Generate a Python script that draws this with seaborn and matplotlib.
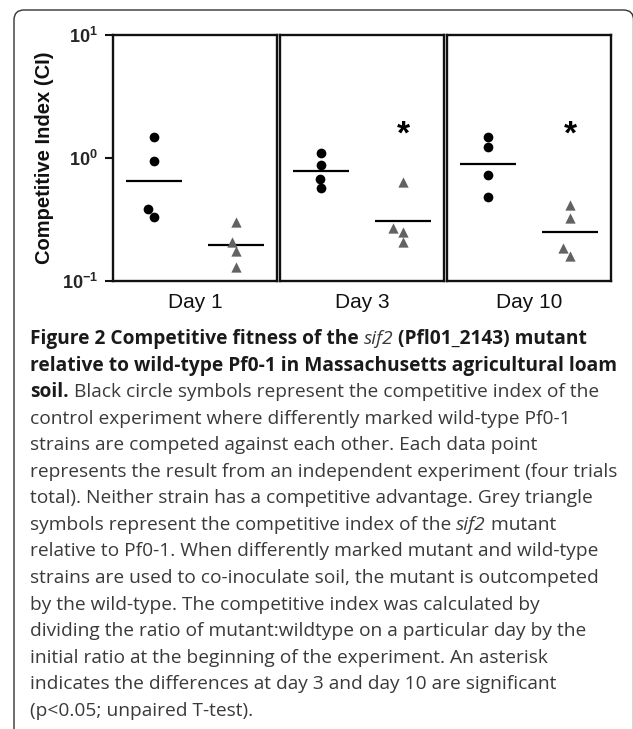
import numpy as np
import pandas as pd
import matplotlib
matplotlib.use("Agg")
import matplotlib.pyplot as plt
import seaborn as sns
from matplotlib.patches import FancyBboxPatch
from matplotlib.font_manager import FontProperties
from matplotlib.transforms import IdentityTransform

# ---------------- data ----------------
days = ["Day 1", "Day 3", "Day 10"]
strains = ["wild-type", "sif2"]
wt_day1 = [1.47, 0.95, 0.385, 0.333]
wt_day3 = [1.10, 0.88, 0.68, 0.567]
wt_day10 = [1.49, 1.22, 0.73, 0.485]
mut_day1 = [0.303, 0.209, 0.175, 0.131]
mut_day3 = [0.64, 0.268, 0.252, 0.206]
mut_day10 = [0.415, 0.323, 0.184, 0.160]
significance = ["", "*", "*"]
yticks = [0.1, 1, 10]
ytick_labels = [r"$\mathbf{10^{-1}}$", r"$\mathbf{10^{0}}$", r"$\mathbf{10^{1}}$"]

wt = {"Day 1": wt_day1, "Day 3": wt_day3, "Day 10": wt_day10}
mut = {"Day 1": mut_day1, "Day 3": mut_day3, "Day 10": mut_day10}
rows = []
for d in days:
    for v in wt[d]:
        rows.append((d, strains[0], v))
    for v in mut[d]:
        rows.append((d, strains[1], v))
df = pd.DataFrame(rows, columns=["day", "strain", "ci"])

# ---------------- style ----------------
sns.set_style("white")
plt.rcParams["font.family"] = ["Liberation Sans", "DejaVu Sans"]
plt.rcParams["mathtext.fontset"] = "custom"
plt.rcParams["mathtext.rm"] = "Liberation Sans"
plt.rcParams["mathtext.bf"] = "Liberation Sans:bold"

W, H = 633, 729
fig = plt.figure(figsize=(W / 100, H / 100), dpi=100)
fig.patch.set_facecolor("white")

panel_left = [113, 280, 447]
panel_w = 164
top, bottom = 35, 281
grey = "#626262"

axes = []
for i, d in enumerate(days):
    ax = fig.add_axes([panel_left[i] / W, 1 - bottom / H, panel_w / W, (bottom - top) / H])
    ax.set_yscale("log")
    ax.set_ylim(0.1, 10)
    sub = df[df["day"] == d]
    sns.swarmplot(data=sub[sub["strain"] == strains[0]], x="strain", y="ci", order=strains,
                  color="black", marker="o", size=7.0, linewidth=0, ax=ax)
    sns.swarmplot(data=sub[sub["strain"] == strains[1]], x="strain", y="ci", order=strains,
                  color=grey, marker="^", size=7.4, linewidth=0, ax=ax)
    # geometric-mean lines
    gm = sub.groupby("strain")["ci"].apply(lambda v: np.exp(np.mean(np.log(v))))
    for j, s in enumerate(strains):
        ax.hlines(gm[s], j - 0.34, j + 0.34, color="black", lw=1.6, zorder=1)
    if significance[i]:
        ax.text(1, 1.3, significance[i], ha="center", va="baseline",
                fontsize=24, fontweight="bold", color="black")
    ax.set_xlim(-0.5, 1.5)
    ax.set_ylim(0.1, 10)
    ax.set_xticks([])
    ax.minorticks_off()
    ax.set_xlabel(d, fontsize=15, color="#111111")
    ax.xaxis.set_label_coords(0.5, -0.088)
    ax.xaxis.label.set_verticalalignment("center")
    for sp in ax.spines.values():
        sp.set_visible(True)
        sp.set_linewidth(1.7)
        sp.set_color("#111111")
    if i == 0:
        ax.set_yticks(yticks)
        ax.set_yticklabels(ytick_labels, fontsize=13)
        ax.tick_params(axis="y", which="major", direction="out", length=6, width=1.5,
                       pad=5, left=True, color="#111111")
        ax.set_ylabel("Competitive Index (CI)", fontsize=14.5, fontweight="bold", color="#111111")
        ax.yaxis.set_label_coords(-0.415, 0.5)
        ax.yaxis.label.set_verticalalignment("center")
    else:
        ax.set_yticks([])
        ax.set_ylabel("")
    axes.append(ax)

# ---------------- outer rounded frame ----------------
frame = FancyBboxPatch((14, -30), 619.5, 729 - 10 + 30, boxstyle="round,pad=0,rounding_size=10",
                       transform=IdentityTransform(), fill=False, ec="#333333", lw=1.0)
fig.add_artist(frame)

# ---------------- caption ----------------
B, R, I = "b", "r", "i"
caption = [
    [(B, "Figure 2 Competitive fitness of the "), (I, "sif2"), (B, " (Pfl01_2143) mutant")],
    [(B, "relative to wild-type Pf0-1 in Massachusetts agricultural loam")],
    [(B, "soil."), (R, " Black circle symbols represent the competitive index of the")],
    [(R, "control experiment where differently marked wild-type Pf0-1")],
    [(R, "strains are competed against each other. Each data point")],
    [(R, "represents the result from an independent experiment (four trials")],
    [(R, "total). Neither strain has a competitive advantage. Grey triangle")],
    [(R, "symbols represent the competitive index of the "), (I, "sif2"), (R, " mutant")],
    [(R, "relative to Pf0-1. When differently marked mutant and wild-type")],
    [(R, "strains are used to co-inoculate soil, the mutant is outcompeted")],
    [(R, "by the wild-type. The competitive index was calculated by")],
    [(R, "dividing the ratio of mutant:wildtype on a particular day by the")],
    [(R, "initial ratio at the beginning of the experiment. An asterisk")],
    [(R, "indicates the differences at day 3 and day 10 are significant")],
    [(R, "(p<0.05; unpaired T-test).")],
]
renderer = fig.canvas.get_renderer()
cap_family = ["Open Sans", "DejaVu Sans"]


def fprops(kind, size):
    if kind == B:
        return FontProperties(family=cap_family, weight="bold", size=size)
    if kind == I:
        return FontProperties(family=cap_family, style="italic", size=size)
    return FontProperties(family=cap_family, size=size)


def seg_w(s, fp):
    w1, _, _ = renderer.get_text_width_height_descent(s + "|", fp, ismath=False)
    w2, _, _ = renderer.get_text_width_height_descent("|", fp, ismath=False)
    return w1 - w2


left_x = 30
right_x = 618
reg_lines = [ln for ln in caption if all(k != B for k, _ in ln)]
reg_w10 = max(sum(seg_w(t, fprops(k, 10)) for k, t in ln) for ln in reg_lines)
fs_r = 10 * (right_x - left_x) / reg_w10
bold_w10 = seg_w(caption[1][0][1], fprops(B, 10))
fs_b = 10 * (right_x - 1 - left_x) / bold_w10
sizes = {B: fs_b, R: fs_r, I: fs_r}

colors = {B: "#1a1a1a", R: "#3a3a3a", I: "#3a3a3a"}
base0, lead = 344, 26.55
for li, line in enumerate(caption):
    x = left_x
    yb = H - (base0 + li * lead)
    for k, t in line:
        fp = fprops(k, sizes[k])
        fig.text(x / W, yb / H, t, fontproperties=fp, color=colors[k], va="baseline", ha="left")
        x += seg_w(t, fp)

fig.savefig("out.png", dpi=100, facecolor="white")
